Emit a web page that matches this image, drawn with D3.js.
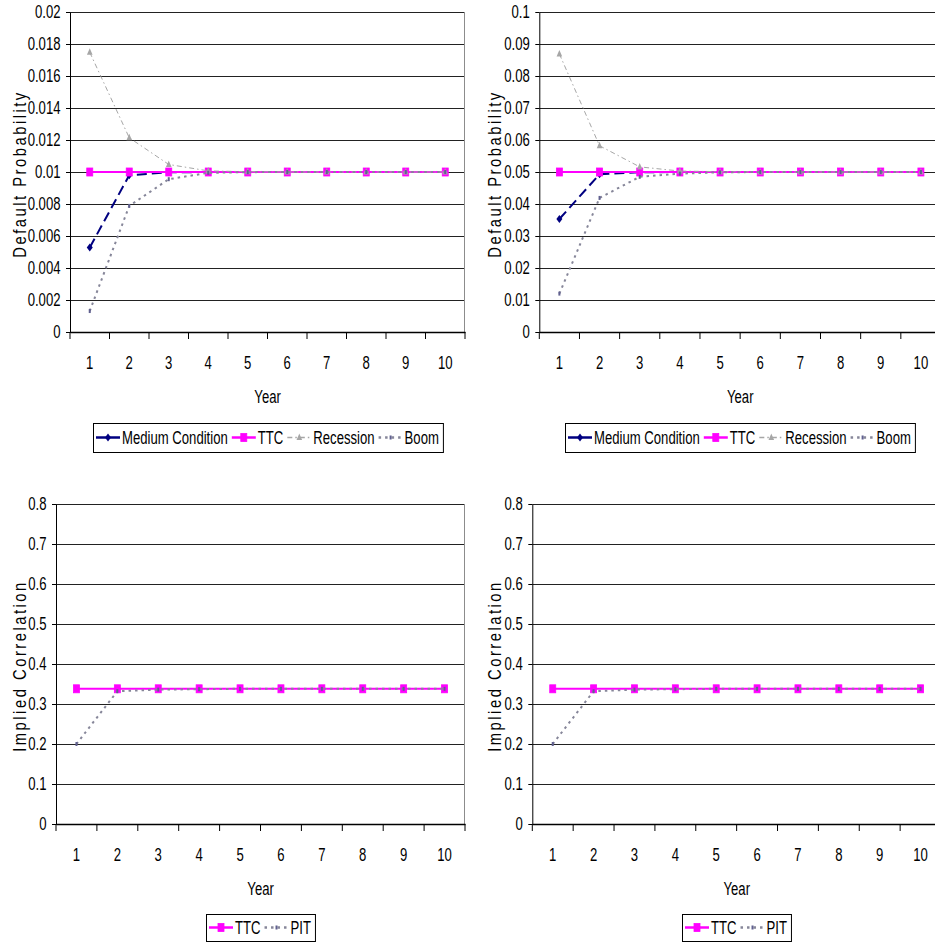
<!DOCTYPE html>
<html><head><meta charset="utf-8">
<script src="https://cdn.jsdelivr.net/npm/d3@7"></script>
<style>
html,body{margin:0;padding:0;background:#fff;}
svg{display:block;}
text{font-family:"Liberation Sans",Arial,sans-serif;font-size:18.5px;fill:#000;}
.nx{transform-box:fill-box;transform:scaleX(0.71);}
.nx-e{transform-origin:right center;}
.nx-m{transform-origin:center center;}
.nx-s{transform-origin:left center;}
</style></head><body>
<svg id="c" width="935" height="945"></svg>
<script>
// ---------- data ----------
const years = [1, 2, 3, 4, 5, 6, 7, 8, 9, 10];

const pdTicksA = [0, 0.002, 0.004, 0.006, 0.008, 0.01, 0.012, 0.014, 0.016, 0.018, 0.02];
const pdTicksB = [0, 0.01, 0.02, 0.03, 0.04, 0.05, 0.06, 0.07, 0.08, 0.09, 0.1];
const corrTicks = [0, 0.1, 0.2, 0.3, 0.4, 0.5, 0.6, 0.7, 0.8];

// top-left chart (TTC PD = 1%)
const mediumA    = [0.00528, 0.0098, 0.00998, 0.01, 0.01, 0.01, 0.01, 0.01, 0.01, 0.01];
const ttcA       = [0.01, 0.01, 0.01, 0.01, 0.01, 0.01, 0.01, 0.01, 0.01, 0.01];
const recessionA = [0.01748, 0.01214, 0.01047, 0.01007, 0.01002, 0.01, 0.01, 0.01, 0.01, 0.01];
const boomA      = [0.00131, 0.00788, 0.00955, 0.00995, 0.00999, 0.01, 0.01, 0.01, 0.01, 0.01];

// top-right chart (TTC PD = 5%)
const mediumB    = [0.0353, 0.0493, 0.0499, 0.05, 0.05, 0.05, 0.05, 0.05, 0.05, 0.05];
const ttcB       = [0.05, 0.05, 0.05, 0.05, 0.05, 0.05, 0.05, 0.05, 0.05, 0.05];
const recessionB = [0.0869, 0.0582, 0.0516, 0.0503, 0.0501, 0.05, 0.05, 0.05, 0.05, 0.05];
const boomB      = [0.012, 0.0419, 0.0485, 0.0495, 0.0499, 0.05, 0.05, 0.05, 0.05, 0.05];

// bottom charts (implied correlation)
const ttcCorrC = [0.338, 0.338, 0.338, 0.338, 0.338, 0.338, 0.338, 0.338, 0.338, 0.338];
const pitCorrC = [0.2, 0.332, 0.336, 0.337, 0.338, 0.338, 0.338, 0.338, 0.338, 0.338];
const ttcCorrD = [0.338, 0.338, 0.338, 0.338, 0.338, 0.338, 0.338, 0.338, 0.338, 0.338];
const pitCorrD = [0.2, 0.332, 0.336, 0.337, 0.338, 0.338, 0.338, 0.338, 0.338, 0.338];

// ---------- styles ----------
const ST = {
  medium:    {name: "Medium Condition", color: "#000080", width: 2,   dash: "10,5",       marker: "diamond"},
  ttc:       {name: "TTC",              color: "#FF00FF", width: 2,   dash: null,         marker: "square"},
  recession: {name: "Recession",        color: "#A6A6A6", width: 1,   dash: "5,3,1.5,3",  marker: "triangle"},
  boom:      {name: "Boom",             color: "#868699", width: 2,   dash: "2.5,4",      marker: "tiny"},
  pit:       {name: "PIT",              color: "#868699", width: 2,   dash: "2.5,4",      marker: "tiny"}
};

const charts = [
  {left: 70, right: 465, top: 12, bottom: 332, ticks: pdTicksA, ylab: "Default Probability", ylabX: 26,
   series: [[ST.medium, mediumA], [ST.ttc, ttcA], [ST.recession, recessionA], [ST.boom, boomA]],
   legTop: 423, legH: 29},
  {left: 539.3, right: 941, top: 12, bottom: 332, ticks: pdTicksB, ylab: "Default Probability", ylabX: 501,
   series: [[ST.medium, mediumB], [ST.ttc, ttcB], [ST.recession, recessionB], [ST.boom, boomB]],
   legTop: 423, legH: 29},
  {left: 56, right: 465, top: 504, bottom: 824, ticks: corrTicks, ylab: "Implied Correlation", ylabX: 26,
   series: [[ST.ttc, ttcCorrC], [ST.pit, pitCorrC]],
   legTop: 914, legH: 27},
  {left: 532.3, right: 941, top: 504, bottom: 824, ticks: corrTicks, ylab: "Implied Correlation", ylabX: 501,
   series: [[ST.ttc, ttcCorrD], [ST.pit, pitCorrD]],
   legTop: 914, legH: 27}
];

const svg = d3.select("#c");
const fmt = d3.format("~g");

function drawMarker(g, st, cx, cy) {
  if (st.marker === "square") {
    g.append("rect").attr("x", cx - 3).attr("y", cy - 4).attr("width", 6).attr("height", 8)
      .attr("fill", st.color).attr("stroke", st.color).attr("stroke-width", 0.8);
  } else if (st.marker === "diamond") {
    g.append("path").attr("d", `M${cx},${cy-4}L${cx+3},${cy}L${cx},${cy+4}L${cx-3},${cy}Z`)
      .attr("fill", st.color);
  } else if (st.marker === "triangle") {
    g.append("path").attr("d", `M${cx},${cy-4}L${cx+2.8},${cy+2.5}L${cx-2.8},${cy+2.5}Z`)
      .attr("fill", st.color);
  } else if (st.marker === "tiny") {
    g.append("rect").attr("x", cx - 1).attr("y", cy - 2).attr("width", 2).attr("height", 4)
      .attr("fill", "#60608f");
  }
}

charts.forEach(c => {
  const g = svg.append("g");
  const x = d3.scaleBand().domain(years).range([c.left, c.right]).padding(0);
  const bw = x.bandwidth();
  const y = d3.scaleLinear().domain([0, d3.max(c.ticks)]).range([c.bottom, c.top]);

  // gridlines
  g.append("g").selectAll("line").data(c.ticks).join("line")
    .attr("x1", c.left).attr("x2", c.right)
    .attr("y1", d => Math.round(y(d)) + 0.5).attr("y2", d => Math.round(y(d)) + 0.5)
    .attr("stroke", "#222").attr("stroke-width", 1);
  // right border of plot area
  g.append("line").attr("x1", c.right - 0.5).attr("x2", c.right - 0.5)
    .attr("y1", c.top).attr("y2", c.bottom).attr("stroke", "#8c8c8c").attr("stroke-width", 1);

  // series
  c.series.forEach(([st, vals]) => {
    const pts = years.map((yr, i) => [x(yr) + bw / 2, y(vals[i])]);
    g.append("path").attr("d", d3.line()(pts)).attr("fill", "none")
      .attr("stroke", st.color).attr("stroke-width", st.width)
      .attr("stroke-dasharray", st.dash);
    const mg = g.append("g");
    pts.forEach(p => drawMarker(mg, st, p[0], p[1]));
  });

  // y axis
  const ya = g.append("g").attr("transform", `translate(${c.left},0)`)
    .call(d3.axisLeft(y).tickValues(c.ticks).tickFormat(fmt).tickSizeInner(4).tickSizeOuter(0).tickPadding(5.5));
  ya.selectAll("text").attr("class", "nx nx-e");
  ya.selectAll("line,path").attr("stroke", "#000");

  // x axis
  const xa = g.append("g").attr("transform", `translate(0,${c.bottom})`)
    .call(d3.axisBottom(x).tickSizeInner(0).tickSizeOuter(0).tickPadding(23.5));
  xa.selectAll("text").attr("class", "nx nx-m");
  xa.select(".domain").attr("stroke", "#000").attr("stroke-width", 1.5);
  const edges = years.map(yr => x(yr)).concat([x.range()[1]]);
  g.append("g").selectAll("line").data(edges).join("line")
    .attr("x1", d => d).attr("x2", d => d)
    .attr("y1", c.bottom).attr("y2", c.bottom + 7)
    .attr("stroke", "#000").attr("stroke-width", 1);

  // axis titles
  g.append("text").attr("class", "nx nx-m").attr("text-anchor", "middle")
    .attr("x", (c.left + c.right) / 2).attr("y", c.bottom + 71.5).text("Year");
  g.append("text").attr("text-anchor", "middle")
    .style("letter-spacing", "3.2px").style("font-size", "19px")
    .attr("transform", `translate(${c.ylabX},${(c.top + c.bottom) / 2 + 2}) rotate(-90) scale(0.78,1)`)
    .text(c.ylab);

  // legend
  const lg = g.append("g");
  const cy = c.legTop + c.legH / 2;
  let lx = 0;
  c.series.forEach(([st]) => {
    const sx = lx + 3;
    lg.append("line").attr("x1", sx).attr("x2", sx + 24).attr("y1", cy).attr("y2", cy)
      .attr("stroke", st.color).attr("stroke-width", st.width + 0.5)
      .attr("stroke-dasharray", st.dash ? (st.marker === "diamond" ? null : st.dash) : null);
    drawMarker(lg, st, sx + 12, cy);
    lx = sx + 26;
    const t = lg.append("text").attr("class", "nx nx-s").attr("x", lx).attr("y", cy + 6.5).text(st.name);
    lx += t.node().getComputedTextLength() * 0.71 + 1;
  });
  const total = lx + 3;
  lg.insert("rect", ":first-child").attr("x", 0.5).attr("y", c.legTop + 0.5)
    .attr("width", total).attr("height", c.legH).attr("fill", "#fff")
    .attr("stroke", "#000").attr("stroke-width", 1);
  lg.attr("transform", `translate(${Math.round((c.left + c.right) / 2 - total / 2)},0)`);
});
</script>
</body></html>
